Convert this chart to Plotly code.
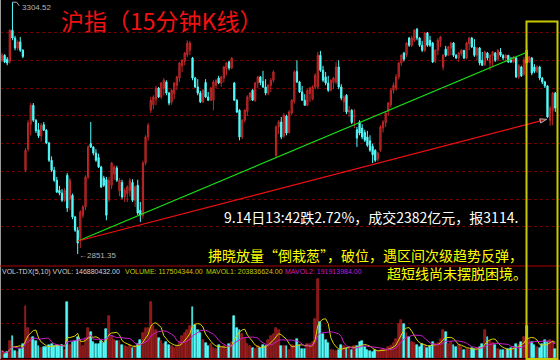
import plotly.graph_objects as go
import pandas as pd

W, H = 560, 360

# ---------------- data (15-minute bars, Shanghai Composite) ----------------
open_ = [
    3200, 3209, 3202, 3198, 3254, 3240, 3222, 3233, 3218,
    3002, 3040, 3085, 3119, 3092, 3075, 3064, 3084, 3074, 3051, 3020, 3002, 2984, 2966, 2961, 2948,
    2993, 2950, 2957, 2918, 2894, 2880, 2921, 2936, 2990, 3050, 3044, 3033, 3025, 3008, 2988, 2985,
    2950, 2975, 2995, 3006, 2965, 2980, 2954, 2960, 2965, 2980, 2948, 2975, 2930, 2921, 3015, 3062,
    3110, 3120, 3130, 3150, 3134, 3150, 3161, 3141, 3125, 3140, 3155, 3168, 3190, 3198, 3210, 3218,
    3204, 3168, 3152, 3141, 3125, 3160, 3134, 3128, 3128, 3155, 3168, 3159, 3168, 3185, 3197, 3186,
    3159, 3128, 3110, 3062, 3092, 3108, 3134, 3146, 3128, 3159, 3170, 3162, 3152, 3141, 3155, 3164,
    3029, 3080, 3089, 3064, 3100, 3070, 3105, 3126, 3180, 3161, 3143, 3128, 3119, 3140, 3130, 3152,
    3152, 3209, 3182, 3170, 3159, 3146, 3160, 3161, 3188, 3152, 3125, 3137, 3107, 3110, 3098, 3075,
    3089, 3078, 3070, 3062, 3055, 3045, 3038, 3022, 3038, 3078, 3088, 3108, 3120, 3146, 3150, 3170,
    3195, 3213, 3209, 3240, 3227, 3236, 3256, 3240, 3227, 3218, 3249, 3236, 3231, 3198, 3218, 3234,
    3188, 3220, 3209, 3222, 3231, 3209, 3204, 3212, 3218, 3204, 3230, 3240, 3224, 3209, 3222, 3200,
    3192, 3213, 3195, 3208, 3213, 3202, 3215, 3209, 3204, 3209, 3200, 3197, 3204, 3170, 3188, 3175,
    3218, 3197, 3204, 3188, 3180, 3188, 3168, 3161, 3154, 3092, 3110, 3141,
]
high_ = [
    3213, 3211, 3206, 3256, 3304.52, 3244, 3236, 3242, 3220,
    3042, 3092, 3123, 3123, 3094, 3087, 3087, 3089, 3076, 3053, 3027, 3008, 2990, 2974, 2968, 2970,
    2997, 2988, 2960, 2920, 2900, 2930, 2939, 2993, 3047, 3089, 3045, 3040, 3032, 3010, 2992, 2990,
    2990, 3017, 3011, 3010, 2988, 2985, 2970, 2975, 2988, 2986, 2975, 2985, 2945, 3019, 3065, 3087,
    3134, 3137, 3154, 3152, 3161, 3168, 3164, 3143, 3148, 3161, 3172, 3197, 3202, 3215, 3236, 3235,
    3206, 3170, 3166, 3145, 3148, 3166, 3143, 3152, 3164, 3166, 3172, 3172, 3190, 3197, 3199, 3206,
    3161, 3130, 3112, 3094, 3112, 3137, 3143, 3148, 3161, 3172, 3172, 3181, 3166, 3157, 3168, 3182,
    3083, 3092, 3098, 3105, 3102, 3110, 3130, 3182, 3200, 3163, 3154, 3139, 3148, 3152, 3155, 3177,
    3215, 3217, 3190, 3179, 3172, 3166, 3170, 3197, 3200, 3157, 3137, 3139, 3118, 3112, 3112, 3080,
    3092, 3085, 3075, 3073, 3065, 3050, 3040, 3035, 3083, 3092, 3107, 3125, 3150, 3160, 3175, 3197,
    3211, 3215, 3233, 3242, 3244, 3256, 3258, 3242, 3235, 3251, 3251, 3244, 3233, 3220, 3240, 3244,
    3211, 3226, 3226, 3233, 3233, 3211, 3215, 3220, 3218, 3233, 3242, 3242, 3238, 3224, 3224, 3215,
    3217, 3215, 3211, 3217, 3215, 3220, 3222, 3211, 3211, 3208, 3206, 3208, 3206, 3193, 3190, 3206,
    3231, 3208, 3206, 3193, 3191, 3190, 3170, 3163, 3155, 3118, 3143, 3143,
]
low_ = [
    3197, 3195, 3191, 3194, 3236, 3218, 3218, 3215, 3204,
    2999, 3036, 3065, 3089, 3069, 3060, 3054, 3073, 3049, 3017, 2999, 2981, 2961, 2957, 2945, 2945,
    2927, 2930, 2914, 2891, 2851.35, 2862, 2916, 2930, 2986, 3042, 3029, 3017, 3006, 2970, 2972, 2912,
    2945, 2968, 2985, 2981, 2955, 2950, 2945, 2945, 2955, 2945, 2936, 2921, 2909, 2915, 3011, 3055,
    3105, 3112, 3119, 3132, 3130, 3137, 3137, 3119, 3120, 3130, 3146, 3161, 3179, 3191, 3206, 3209,
    3164, 3150, 3137, 3123, 3123, 3132, 3127, 3127, 3110, 3150, 3157, 3152, 3160, 3173, 3182, 3184,
    3127, 3105, 3056, 3058, 3088, 3100, 3127, 3127, 3125, 3150, 3155, 3150, 3137, 3137, 3143, 3160,
    3024, 3067, 3058, 3060, 3065, 3068, 3101, 3122, 3159, 3141, 3127, 3118, 3117, 3125, 3128, 3148,
    3148, 3179, 3161, 3155, 3143, 3144, 3148, 3157, 3148, 3128, 3107, 3103, 3098, 3085, 3078, 3044,
    3065, 3058, 3053, 3044, 3035, 3015, 3017, 3018, 3035, 3070, 3080, 3100, 3115, 3140, 3145, 3166,
    3190, 3198, 3206, 3224, 3224, 3233, 3236, 3224, 3215, 3215, 3224, 3224, 3195, 3195, 3209, 3224,
    3182, 3206, 3209, 3209, 3206, 3202, 3197, 3208, 3202, 3202, 3218, 3222, 3206, 3200, 3191, 3190,
    3190, 3200, 3182, 3188, 3197, 3198, 3206, 3200, 3197, 3195, 3195, 3195, 3168, 3166, 3170, 3172,
    3191, 3195, 3173, 3177, 3177, 3164, 3157, 3150, 3096, 3082, 3083, 3107,
]
close_ = [
    3209, 3197, 3195, 3254, 3240, 3222, 3233, 3218, 3207,
    3038, 3087, 3119, 3092, 3073, 3064, 3083, 3074, 3051, 3020, 3002, 2984, 2963, 2961, 2948, 2966,
    2934, 2984, 2918, 2894, 2871, 2927, 2936, 2990, 3044, 3044, 3033, 3020, 3008, 2972, 2975, 2921,
    2984, 3015, 3008, 2984, 2984, 2954, 2966, 2972, 2984, 2948, 2972, 2925, 2921, 3015, 3062, 3083,
    3128, 3134, 3150, 3134, 3159, 3164, 3141, 3123, 3146, 3159, 3170, 3195, 3200, 3213, 3231, 3231,
    3168, 3152, 3141, 3125, 3146, 3134, 3128, 3150, 3161, 3164, 3159, 3170, 3188, 3195, 3186, 3204,
    3128, 3107, 3062, 3092, 3110, 3134, 3141, 3128, 3159, 3170, 3160, 3152, 3141, 3155, 3164, 3179,
    3080, 3089, 3062, 3101, 3069, 3107, 3128, 3179, 3161, 3143, 3128, 3119, 3146, 3150, 3152, 3173,
    3209, 3182, 3164, 3159, 3146, 3164, 3168, 3188, 3152, 3132, 3134, 3107, 3110, 3088, 3100, 3060,
    3069, 3062, 3056, 3047, 3038, 3030, 3020, 3033, 3080, 3089, 3105, 3123, 3146, 3155, 3170, 3195,
    3209, 3202, 3231, 3227, 3240, 3254, 3240, 3227, 3218, 3249, 3227, 3227, 3197, 3218, 3236, 3242,
    3209, 3209, 3224, 3231, 3209, 3204, 3213, 3218, 3204, 3231, 3240, 3224, 3209, 3222, 3195, 3191,
    3215, 3204, 3209, 3215, 3200, 3218, 3209, 3204, 3209, 3197, 3197, 3206, 3170, 3190, 3172, 3201,
    3195, 3206, 3177, 3180, 3188, 3168, 3161, 3154, 3098, 3114, 3141, 3114,
]
# volume per bar, millions of shares
volume_m = [
    91, 52, 78, 221, 286, 91, 78, 117, 182,
    676, 390, 260, 273, 221, 156, 130, 143, 143, 169, 182, 156, 169, 156, 169, 104,
    728, 169, 208, 221, 273, 221, 156, 260, 390, 338, 208, 182, 182, 221, 195, 377,
    546, 286, 234, 221, 221, 169, 156, 143, 169, 130, 156, 182, 234, 325, 390, 390,
    728, 416, 364, 260, 221, 182, 208, 169, 156, 130, 156, 208, 286, 325, 364, 416,
    663, 429, 364, 325, 234, 195, 156, 182, 130, 117, 169, 130, 156, 117, 182, 208,
    546, 390, 364, 312, 260, 182, 156, 130, 117, 156, 130, 169, 156, 234, 286, 312,
    390, 364, 156, 156, 156, 104, 169, 156, 247, 169, 117, 117, 182, 182, 208, 507,
    1027, 468, 312, 234, 195, 104, 104, 91, 104, 169, 156, 130, 143, 104, 156, 156,
    208, 221, 143, 104, 91, 78, 104, 91, 104, 117, 104, 143, 156, 195, 247, 442,
    494, 442, 325, 273, 208, 195, 169, 143, 182, 169, 130, 156, 208, 182, 195, 247,
    364, 338, 182, 208, 169, 143, 169, 143, 104, 117, 104, 130, 117, 117, 143, 182,
    364, 273, 221, 195, 169, 117, 104, 104, 104, 117, 130, 143, 182, 169, 208, 273,
    416, 234, 208, 169, 143, 130, 182, 234, 208, 234, 221, 117,
]

# trend lines (bar index, price)
green_x = [29.1, 200.4]
green_y = [2874.7, 3213.1]
red_x = [29.1, 208.7]
red_y = [2874.7, 3093.8]

grid_prices = [2900, 2950, 3000, 3050, 3100, 3150, 3200, 3250]
vol_grid = [455, 897]

title_text = "沪指（15分钟K线）"
note_white = "9.14日13:42跌2.72%，成交2382亿元，报3114."
note_y1 = "拂晓放量“倒栽葱”，破位，遇区间次级趋势反弹，"
note_y2 = "超短线尚未摆脱困境。"
hi_label = "3304.52"
lo_label = "←2851.35"
vol_labels = [
    ("VOL-TDX(5,10) VVOL: 146880432.00", 0, "#d0d0d0"),
    ("VOLUME: 117504344.00", 123, "#c8c800"),
    ("MAVOL1: 203836624.00", 204, "#c8c800"),
    ("MAVOL2: 191913984.00", 283, "#c81ec8"),
]

# ---------------- figure ----------------
idx = list(range(len(close_)))
vol = pd.Series(volume_m, dtype=float)
mavol1 = vol.rolling(5, min_periods=1).mean()
mavol2 = vol.rolling(10, min_periods=1).mean()

UP_FILL = "#861616"
UP_LINE = "#c02828"
DN = "#54fcfc"


def px(x):
    return x / W


def py(y):
    return 1 - y / H


fig = go.Figure()
fig.add_trace(go.Candlestick(
    x=idx, open=open_, high=high_, low=low_, close=close_,
    increasing=dict(line=dict(color=UP_LINE, width=1), fillcolor=UP_FILL),
    decreasing=dict(line=dict(color=DN, width=1), fillcolor=DN),
    whiskerwidth=0, xaxis="x", yaxis="y", showlegend=False,
))

up = [c >= o for o, c in zip(open_, close_)]
fig.add_trace(go.Bar(
    x=idx, y=volume_m, width=0.72, yaxis="y2",
    marker=dict(color=[UP_FILL if u else DN for u in up],
                line=dict(color=[UP_LINE if u else DN for u in up], width=0.6)),
    showlegend=False,
))
fig.add_trace(go.Scatter(x=idx, y=mavol1, mode="lines", yaxis="y2",
                         line=dict(color="#d6d600", width=1), showlegend=False))
fig.add_trace(go.Scatter(x=idx, y=mavol2, mode="lines", yaxis="y2",
                         line=dict(color="#c81ec8", width=1), showlegend=False))

fig.add_trace(go.Scatter(x=green_x, y=green_y, mode="lines", yaxis="y",
                         line=dict(color="#18e018", width=1.2), showlegend=False))
fig.add_trace(go.Scatter(x=red_x, y=red_y, mode="lines+markers", yaxis="y",
                         line=dict(color="#ee1010", width=1.2),
                         marker=dict(symbol="arrow", size=[0, 7], angleref="previous",
                                     color="#ee1010"),
                         showlegend=False))

shapes = [
    dict(type="line", xref="paper", yref="paper", x0=px(0.5), x1=px(0.5), y0=0, y1=1,
         line=dict(color="#9a9a9a", width=1)),
    dict(type="line", xref="paper", yref="paper", x0=0, x1=1, y0=py(266), y1=py(266),
         line=dict(color="#b00000", width=1)),
    dict(type="line", xref="paper", yref="paper", x0=0, x1=1, y0=py(359.5), y1=py(359.5),
         line=dict(color="#800000", width=1)),
    dict(type="rect", xref="paper", yref="paper", x0=px(526.5), x1=px(557.5),
         y0=py(359), y1=py(21.5), line=dict(color="#c8c800", width=2)),
    dict(type="path", xref="x", yref="y",
         path="M 4 3304.52 L 5.6 3304.52 L 6.6 3298",
         line=dict(color="#b0b0b0", width=1)),
]

annotations = [
    dict(text=title_text, x=px(59), y=py(20), xanchor="left", yanchor="middle",
         font=dict(family="Noto Sans CJK SC", size=23, color="#f01212")),
    dict(text=hi_label, x=px(20), y=py(7.5), xanchor="left", yanchor="middle",
         font=dict(family="Liberation Sans", size=8, color="#b4b4b4")),
    dict(text=lo_label, x=px(77), y=py(255), xanchor="left", yanchor="middle",
         font=dict(family="Liberation Sans", size=8, color="#b4b4b4")),
    dict(text=note_white, x=px(222), y=py(217), xanchor="left", yanchor="middle",
         font=dict(family="Noto Sans CJK SC", size=14, color="#ffffff")),
    dict(text=note_y1, x=px(206), y=py(255), xanchor="left", yanchor="middle",
         font=dict(family="Noto Sans CJK SC", size=14, color="#ffff00")),
    dict(text=note_y2, x=px(385), y=py(273), xanchor="left", yanchor="middle",
         font=dict(family="Noto Sans CJK SC", size=14, color="#ffff00")),
]
for text, xpos, col in vol_labels:
    annotations.append(dict(text=text, x=px(xpos), y=py(271.5), xanchor="left",
                            yanchor="middle",
                            font=dict(family="Liberation Sans", size=7, color=col)))
for a in annotations:
    a.update(xref="paper", yref="paper", showarrow=False)

y_top_price = 3308.5
y_bot_price = 3308.5 - 1.8 * 266

fig.update_layout(
    width=W, height=H, autosize=False,
    margin=dict(l=0, r=0, t=0, b=0, pad=0),
    paper_bgcolor="#000000", plot_bgcolor="#000000",
    showlegend=False, hovermode=False, bargap=0,
    xaxis=dict(range=[-0.77, 213.8], showgrid=False, zeroline=False, showticklabels=False,
               showline=False, ticks="", rangeslider=dict(visible=False), fixedrange=True),
    yaxis=dict(domain=[py(266), 1], range=[y_bot_price, y_top_price], tickvals=grid_prices,
               showgrid=True, gridcolor="#700000", griddash="dot", gridwidth=1,
               zeroline=False, showticklabels=False, showline=False, ticks="", fixedrange=True),
    yaxis2=dict(domain=[py(358), py(266)], range=[0, (358 - 266) * 13], tickvals=vol_grid,
                showgrid=True, gridcolor="#700000", griddash="dot", gridwidth=1,
                zeroline=False, showticklabels=False, showline=False, ticks="", fixedrange=True),
    shapes=shapes, annotations=annotations,
)

fig.write_html("out.html")
